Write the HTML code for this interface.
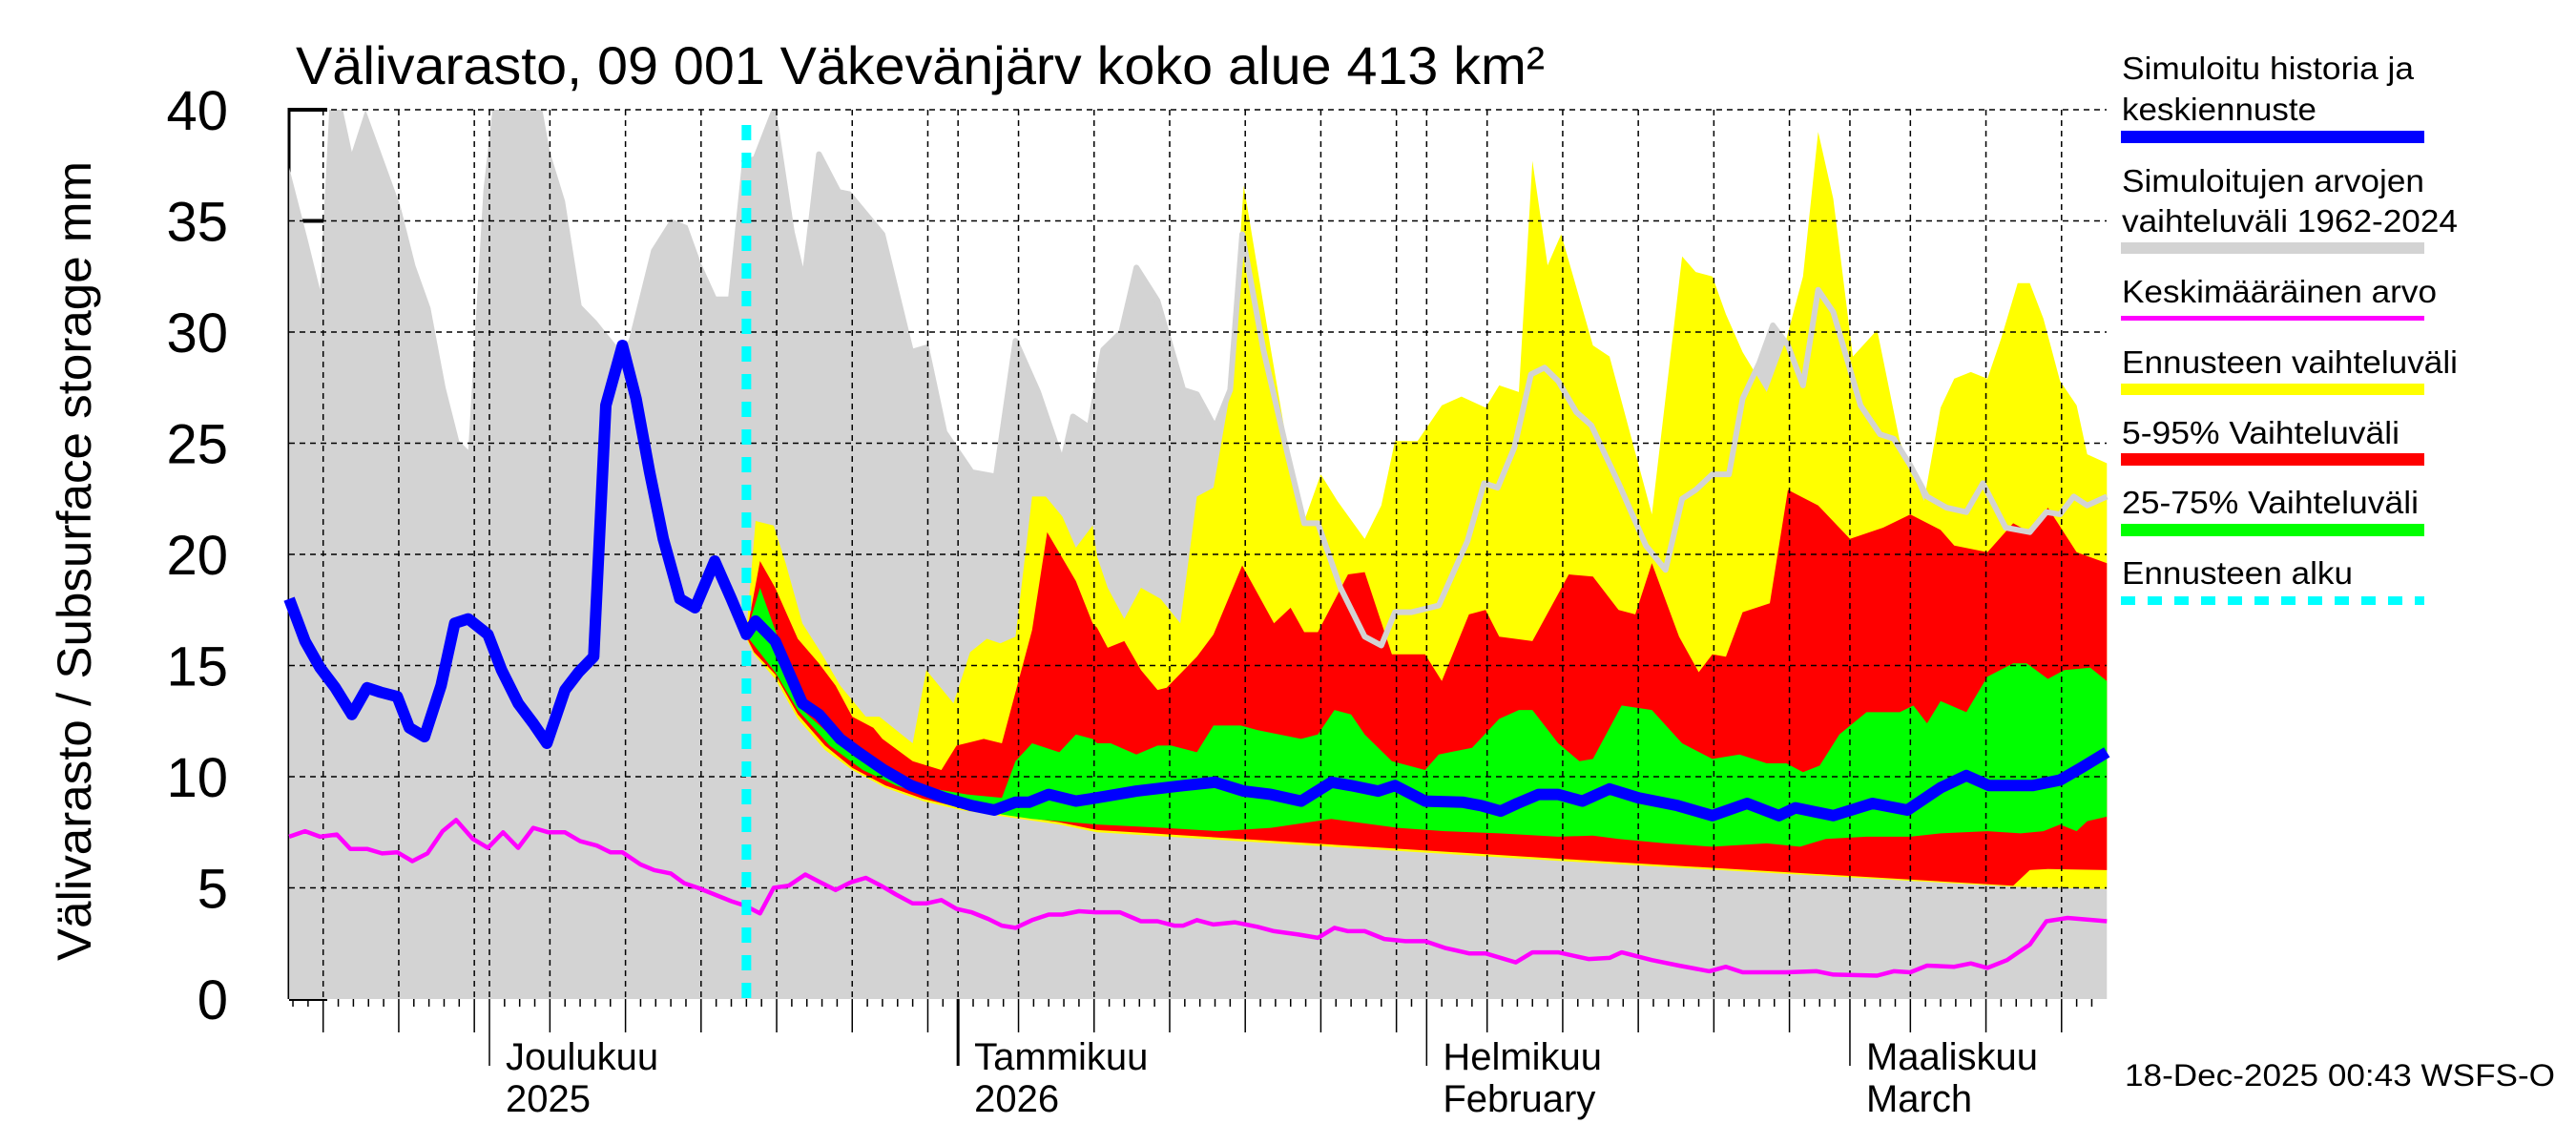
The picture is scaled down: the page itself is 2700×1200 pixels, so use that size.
<!DOCTYPE html>
<html><head><meta charset="utf-8"><style>
html,body{margin:0;padding:0;background:#fff;}
svg{display:block;font-family:"Liberation Sans",sans-serif;}
</style></head><body>
<svg id="chart" width="2700" height="1200" viewBox="0 0 2700 1200" xmlns="http://www.w3.org/2000/svg">
<rect x="0" y="0" width="2700" height="1200" fill="#fff"/>
<text x="310" y="88" font-size="56" textLength="1309" lengthAdjust="spacingAndGlyphs">Välivarasto, 09 001 Väkevänjärv koko alue 413 km²</text>
<text transform="translate(95,1007) rotate(-90)" font-size="50" textLength="838" lengthAdjust="spacingAndGlyphs">Välivarasto / Subsurface storage  mm</text>
<g id="plot"></g>
<g id="legend">
<text x="2224" y="83" font-size="33" textLength="306" lengthAdjust="spacingAndGlyphs">Simuloitu historia ja</text>
<text x="2224" y="126" font-size="33" textLength="204" lengthAdjust="spacingAndGlyphs">keskiennuste</text>
<rect x="2223" y="137" width="318" height="13" fill="#0000ff"/>
<text x="2224" y="201" font-size="33" textLength="317" lengthAdjust="spacingAndGlyphs">Simuloitujen arvojen</text>
<text x="2224" y="243" font-size="33" textLength="352" lengthAdjust="spacingAndGlyphs">vaihteluväli 1962-2024</text>
<rect x="2223" y="254" width="318" height="12" fill="#d3d3d3"/>
<text x="2224" y="317" font-size="33" textLength="330" lengthAdjust="spacingAndGlyphs">Keskimääräinen arvo</text>
<rect x="2223" y="331" width="318" height="5" fill="#ff00ff"/>
<text x="2224" y="391" font-size="33" textLength="352" lengthAdjust="spacingAndGlyphs">Ennusteen vaihteluväli</text>
<rect x="2223" y="402" width="318" height="12" fill="#ffff00"/>
<text x="2224" y="465" font-size="33" textLength="291" lengthAdjust="spacingAndGlyphs">5-95% Vaihteluväli</text>
<rect x="2223" y="475" width="318" height="13" fill="#ff0000"/>
<text x="2224" y="538" font-size="33" textLength="311" lengthAdjust="spacingAndGlyphs">25-75% Vaihteluväli</text>
<rect x="2223" y="549" width="318" height="13" fill="#00ff00"/>
<text x="2224" y="612" font-size="33" textLength="242" lengthAdjust="spacingAndGlyphs">Ennusteen alku</text>
<line x1="2223" y1="629.5" x2="2541" y2="629.5" stroke="#00ffff" stroke-width="9" stroke-dasharray="15,13"/>
</g>
<text x="2227" y="1138" font-size="32" textLength="451" lengthAdjust="spacingAndGlyphs">18-Dec-2025 00:43 WSFS-O</text>
</svg>
<script>
// Days relative to 1 Dec 2025 (0 = Dec 1)
const grayDays=[-13.25,-12,-11.2,-10.6,-9.7,-9.1,-8.2,-5.9,-4.9,-3.9,-2.9,-2,-1.4,-0.4,0.2,3.5,4,5,6.1,7.1,8.4,9.2,10.7,12,13.1,14,15,15.8,16.7,17.6,18.8,20,20.8,21.8,23.1,23.8,26,27.9,28.9,30.1,31.9,33.5,34.8,36.3,37.9,38.6,39.7,40.6,41.8,42.8,44.2,45.9,46.8,48,49,49.8,51.2,52.8,53.9,54.8,56.3,57.9,59,59.9,61,62.8,64.7,65.8,66.7,67.8,68.9,69.8,70.7,71.9,72.9,74.7,76.5,77.8,78.9,79.8,80.9,82,82.9,84,84.9,85.9,86.9,87.9,88.9,90.7,92,92.9,94,95.1,96.4,97.7,98.8,100.3,101.9,103,103.9,104.8,105.7,107];
const grayMax=[37.4,34.1,31.9,40,40,38.1,40,35.7,33,31.1,27.5,25.1,24.7,36.4,40,40,38.1,35.9,31.2,30.5,29.4,29.6,33.7,35.1,34.8,33.1,31.6,31.6,37.6,37.8,39.9,34.5,32.2,38,36.3,36.2,34.4,29.1,29.3,25.5,23.7,23.5,29.6,27.3,24.1,26.2,25.7,29.2,30,32.9,31.4,27.4,27.2,25.7,27.4,34.4,29.2,24.5,21.4,21.4,18.5,16.3,15.9,17.4,17.4,17.7,20.6,23.2,23,24.8,28.1,28.4,27.8,26.4,25.8,23.2,20.4,19.3,22.5,22.9,23.6,23.6,27,28.6,30.3,29.4,27.6,31.9,30.9,26.7,25.4,25.2,24,22.6,22.1,21.9,23.2,21.2,21,21.9,21.8,22.6,22.2,22.6];
const medDays=[-13.25,-12.2,-11.2,-10.2,-9.1,-8.1,-7.2,-6.1,-5.3,-4.3,-3.2,-2.3,-1.4,-0.1,0.8,1.9,2.9,3.8,5,5.9,6.9,7.7,8.8,9.7,10.6,11.5,12.6,13.6,14.9,16,17,17.6,18.9,20.7,21.8,23.2,24.4,26.1,27.9,30.1,31.9,33.4,34.8,35.7,37,38.8,40.2,42.8,45.9,48,49.9,51.7,53.7,55.7,57,58.8,59.9,61.9,64.4,65.6,66.9,68,69.4,70.7,72.3,74.1,76,78.6,80.9,83.2,85.3,86.4,88.9,91.5,93.8,96,97.7,99.2,102.1,103.9,105.3,107];
const medVals=[18,16.1,14.9,14,12.8,14,13.8,13.6,12.2,11.8,14.1,16.9,17.1,16.4,14.8,13.3,12.4,11.5,13.9,14.7,15.4,26.7,29.4,27,23.7,20.7,18,17.6,19.7,18,16.4,17,16.1,13.3,12.8,11.7,11.1,10.3,9.6,9.05,8.7,8.5,8.85,8.85,9.2,8.9,9.05,9.35,9.6,9.75,9.35,9.2,8.9,9.75,9.6,9.35,9.6,8.9,8.85,8.7,8.45,8.8,9.2,9.2,8.9,9.45,9.05,8.7,8.25,8.8,8.25,8.6,8.25,8.8,8.5,9.5,10.05,9.6,9.6,9.85,10.4,11.1];
const meanDays=[-13.25,-12.2,-11.2,-10.1,-9.2,-8.1,-7.1,-6.1,-5.1,-4.1,-3.1,-2.2,-1.1,-0.1,0.9,1.9,2.9,3.9,5,6,7.1,8,8.8,10,10.9,12,12.9,13.8,14.9,16,16.9,17.9,18.8,19.8,20.9,21.9,22.9,23.9,24.9,25.9,26.9,28,28.9,29.9,30.9,31.9,33,33.9,34.8,35.9,37,37.9,39,40.1,41.7,43.1,44.2,45.3,45.9,46.8,47.9,49.3,50.8,51.9,53.5,54.8,55.9,56.8,57.9,59.2,60.6,61.9,63.2,64.8,65.9,67.9,69,70.7,72.7,74.1,74.9,76.9,78.7,80.7,81.8,82.9,85.8,87.8,88.9,91.8,92.9,94,95.1,96.9,98,99.1,100.4,101.9,103,104.4,107];
const meanVals=[7.3,7.55,7.3,7.4,6.75,6.75,6.55,6.6,6.2,6.55,7.55,8.05,7.2,6.8,7.5,6.8,7.7,7.5,7.5,7.1,6.9,6.6,6.6,6.05,5.8,5.65,5.2,5,4.7,4.4,4.2,3.85,5,5.1,5.6,5.25,4.9,5.25,5.45,5.1,4.7,4.3,4.3,4.45,4.05,3.9,3.6,3.3,3.2,3.55,3.8,3.8,3.95,3.9,3.9,3.5,3.5,3.3,3.3,3.55,3.35,3.45,3.25,3.05,2.9,2.75,3.2,3.05,3.05,2.7,2.6,2.6,2.3,2.05,2.05,1.65,2.1,2.1,1.8,1.85,2.1,1.75,1.5,1.25,1.45,1.2,1.2,1.25,1.1,1.05,1.25,1.2,1.5,1.45,1.6,1.4,1.75,2.45,3.5,3.65,3.5];
const yelUpDays=[17,17.6,18.8,19.6,20.7,22,23.2,24.9,25.8,28,28.9,30.7,31.8,32.9,33.8,34.8,35.9,36.8,37.9,38.8,39.9,40.2,40.9,42,43.1,44.4,45.7,46.8,47.9,49,49.9,51.7,53,53.9,55,56.1,57.9,59,59.9,61.4,63,64.3,65.9,66.8,68.1,69,70,70.9,73,74.1,76.9,78.9,79.8,80.9,81.8,82.9,84.5,85.8,86.9,87.9,88.9,90.2,91.8,93.3,94.9,96,96.9,98,99.1,100,101.1,101.9,102.8,103.9,105,105.7,107];
const yelUpVals=[16.5,21.5,21.3,19.6,16.9,15.5,14.1,12.7,12.7,11.5,14.8,13.3,15.6,16.2,16,16.3,22.6,22.6,21.7,20.3,21.3,19.9,18.5,17.1,18.5,18,16.9,22.6,23,27.3,36.6,29.2,24,21.5,23.6,22.4,20.7,22.2,25.1,25.1,26.7,27.1,26.6,27.6,27.3,37.7,33,34.4,29.4,28.9,21.8,33.4,32.7,32.5,30.8,29.1,27.3,29.7,32.5,39,36,28.9,30.1,25.1,22.4,26.6,27.9,28.2,27.9,29.7,32.2,32.2,30.6,27.8,26.7,24.5,24.1];
const yelLoDays=[17,17.5,18.9,20.4,22.2,24,26.2,28.7,31.2,34.1,37.7,40.2,71,100.8,107];
const yelLoVals=[16.2,15.5,14.4,12.6,11.2,10.3,9.5,8.9,8.5,8.2,7.85,7.5,6.2,5.05,4.95];
const redUpDays=[17,17.9,18.9,20.4,21.8,22.9,24,25.4,26,28,29.9,30.9,32.7,33.9,35.9,36.9,38.8,39.9,40.2,40.9,42,43.1,44.2,44.8,46.8,47.9,49.8,51.9,53,53.9,54.8,56.8,57.9,59.7,61.9,63,64.8,65.9,66.8,69,71.4,73,74.7,75.8,76.9,78.7,80,80.9,81.8,82.9,84.7,85.9,87.9,90,92.2,94,96,96.9,99.1,100.8,101.9,103.1,105,107];
const redUpVals=[16.4,19.7,18.5,16.2,15.1,14.1,12.7,12.2,11.7,10.7,10.3,11.4,11.7,11.5,16.6,21,18.8,16.9,16.7,15.8,16.1,14.8,13.9,14,15.4,16.4,19.5,16.9,17.6,16.5,16.5,19.1,19.2,15.5,15.5,14.3,17.3,17.5,16.3,16.1,19.1,19,17.5,17.3,19.6,16.3,14.7,15.5,15.4,17.4,17.8,22.9,22.2,20.7,21.2,21.8,21.1,20.4,20.1,21.4,21,22.1,20.1,19.6];
const redLoDays=[17,17.5,18.9,20.4,22.2,24,26.2,28.7,31.2,34.1,37.7,40.2,71,100.8,101.9,103.1,107];
const redLoVals=[16.3,15.6,14.6,12.8,11.4,10.4,9.6,9,8.6,8.3,7.95,7.6,6.3,5.1,5.8,5.85,5.8];
const grnUpDays=[17,17.9,18.9,20.7,22.5,24.3,26.5,29,31.6,33.9,34.8,35.9,37.7,38.8,39.9,40.2,41.1,42.8,44.2,45.1,46.8,47.9,49.7,50.8,53.7,54.8,55.9,57,57.9,59.7,61.9,62.8,65,66.8,68.1,69,70.7,72.1,73,74.9,76.9,78.9,80.9,82.7,84.5,85.8,86.9,88,89.3,91.1,93.3,94.2,95.1,96,97.7,99.1,100.8,101.7,103.1,104.2,105.9,107];
const grnUpVals=[16.45,18.5,16.6,13,11.9,10.9,10,9.5,9.2,9.05,10.7,11.5,11.1,11.9,11.7,11.5,11.5,11,11.4,11.4,11.1,12.3,12.3,12.1,11.7,11.9,13,12.8,11.9,10.7,10.3,11,11.3,12.6,13,13,11.5,10.7,10.8,13.2,13,11.5,10.8,11,10.6,10.6,10.2,10.5,11.9,12.9,12.9,13.2,12.4,13.4,12.9,14.5,15.1,15.1,14.4,14.8,14.9,14.3];
const grnLoDays=[17,18.9,20.4,22.5,24.7,26.9,29.4,31.9,33.9,35.9,37.7,40.2,44.6,48.2,51.7,55.7,60.1,63.2,66.8,70.7,73,74.7,77.8,80.9,84.5,86.7,88.4,91.1,94,96,99.1,101.3,102.8,103.9,105,105.7,107];
const grnLoVals=[16.35,14.7,13,11.4,10.3,9.6,9.05,8.7,8.3,8.1,8,7.85,7.7,7.55,7.7,8.1,7.7,7.55,7.45,7.3,7.35,7.2,7,6.85,7,6.85,7.2,7.3,7.3,7.45,7.55,7.45,7.55,7.85,7.55,8,8.2];
const yTicks=[0,5,10,15,20,25,30,35,40];
const forecastStart=[17];
const gridDays=[-11,-6,-1,0,4,9,14,19,24,29,31,35,40,45,50,55,60,62,66,71,76,81,86,90,94,99,104];
const monthDays=[0,31,62,90];
const monthNames=["Joulukuu","Tammikuu","Helmikuu","Maaliskuu"];
const monthSub=["2025","2026","February","March"];

const X0=513, PXD=15.844, YB=1047, PXV=23.3, LEFT=303, RIGHT=2208, TOP=115;
function xs(d){return X0+d*PXD;}
function ys(v){return YB-v*PXV;}
const NS="http://www.w3.org/2000/svg";
const plot=document.getElementById('plot');
function mk(tag,attrs,parent){const e=document.createElementNS(NS,tag);for(const k in attrs)e.setAttribute(k,attrs[k]);(parent||plot).appendChild(e);return e;}
function pts(days,vals){return days.map((d,i)=>xs(d).toFixed(1)+','+ys(vals[i]).toFixed(1));}
function bandPts(uD,uV,lD,lV){return pts(uD,uV).concat(pts(lD,lV).reverse()).join(' ');}

// left axis (under gray)
const ax=mk('line',{x1:LEFT,y1:TOP-2,x2:LEFT,y2:YB,stroke:'#000','stroke-width':3});


// y ticks (inner, mostly hidden by gray)
yTicks.forEach(v=>{
  const t=mk('line',{x1:LEFT,y1:ys(v),x2:LEFT+40,y2:ys(v),stroke:'#000','stroke-width':4});
  
  
});
// history gray range
const gp=pts(grayDays,grayMax);
const gray=mk('polygon',{points:xs(grayDays[0]).toFixed(1)+','+YB+' '+gp.join(' ')+' '+xs(grayDays[grayDays.length-1]).toFixed(1)+','+YB,fill:'#d3d3d3'});


// forecast bands
const yel=mk('polygon',{points:bandPts(yelUpDays,yelUpVals,yelLoDays,yelLoVals),fill:'#ffff00'});


const red=mk('polygon',{points:bandPts(redUpDays,redUpVals,redLoDays,redLoVals),fill:'#ff0000'});


const grn=mk('polygon',{points:bandPts(grnUpDays,grnUpVals,grnLoDays,grnLoVals),fill:'#00ff00'});


// gray max line over forecast
const gfD=[],gfV=[];
grayDays.forEach((d,i)=>{if(d>=forecastStart[0]-0.5){gfD.push(d);gfV.push(grayMax[i]);}});
const gl=mk('polyline',{points:pts(gfD,gfV).join(' '),fill:'none',stroke:'#d3d3d3','stroke-width':6,'stroke-linejoin':'round'});


// grid
yTicks.forEach(v=>{
  if(v===0)return;
  const g=mk('line',{x1:LEFT,y1:ys(v),x2:RIGHT,y2:ys(v),stroke:'#000','stroke-width':1.5,'stroke-dasharray':'6,5'});
  
  
});
gridDays.forEach(d=>{
  const g=mk('line',{x1:xs(d),y1:TOP,x2:xs(d),y2:YB,stroke:'#000','stroke-width':1.5,'stroke-dasharray':'6,5'});
  
  
});
// y labels
yTicks.forEach(v=>{
  const t=mk('text',{x:239,y:ys(v)+21,'font-size':58,'text-anchor':'end'});
  t.textContent=String(v);
  
  
});
// x ticks
for(let d=-13;d<=107;d++){
  if(xs(d)<LEFT||xs(d)>RIGHT)continue;
  const isM=monthDays.indexOf(d)>=0, isG=gridDays.indexOf(d)>=0;
  const len=isM?70:(isG?35:8);
  const t=mk('line',{x1:xs(d),y1:YB,x2:xs(d),y2:YB+len,stroke:'#000','stroke-width':d===31?3:1.5});
  
  
}
monthDays.forEach((d,i)=>{
  const a=mk('text',{x:xs(d)+17,y:1121,'font-size':40});
  a.textContent=monthNames[i];
  
  
  const b=mk('text',{x:xs(d)+17,y:1165,'font-size':40});
  b.textContent=monthSub[i];
  
  
});
// mean line
const ml=mk('polyline',{points:pts(meanDays,meanVals).join(' '),fill:'none',stroke:'#ff00ff','stroke-width':4.5,'stroke-linejoin':'round'});


// forecast start
const fs=mk('line',{x1:xs(forecastStart[0]),y1:TOP+16,x2:xs(forecastStart[0]),y2:YB,stroke:'#00ffff','stroke-width':10,'stroke-dasharray':'16,13'});


// median line
const bl=mk('polyline',{points:pts(medDays,medVals).join(' '),fill:'none',stroke:'#0000ff','stroke-width':12,'stroke-linejoin':'round'});


</script>
</body></html>
